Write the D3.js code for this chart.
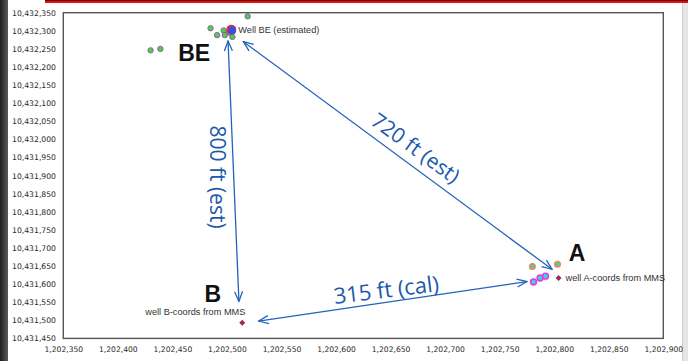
<!DOCTYPE html>
<html><head><meta charset="utf-8">
<script src="https://cdn.jsdelivr.net/npm/d3@7"></script>
<style>
html,body{margin:0;padding:0;background:#fff;}
svg{display:block;}
</style></head>
<body>
<svg id="chart" width="688" height="361"></svg>
<script>
// ---- data ----
const xTicks = [1202350,1202400,1202450,1202500,1202550,1202600,1202650,1202700,1202750,1202800,1202850,1202900];
const yTicks = [10431450,10431500,10431550,10431600,10431650,10431700,10431750,10431800,10431850,10431900,10431950,10432000,10432050,10432100,10432150,10432200,10432250,10432300,10432350];
// estimated BE survey points (green)
const beX = [1202519,1202485,1202491,1202497,1202498,1202502,1202505,1202430,1202439];
const beY = [10432340,10432307,10432288,10432301,10432288,10432295,10432283,10432246,10432250];
// well BE estimated location
const beEstX = [1202504];
const beEstY = [10432303];
// A-area points (orange ring)
const aOrangeX = [1202780,1202803];
const aOrangeY = [10431649,10431655];
// A-area points (magenta ring)
const aMagX = [1202781,1202787,1202792];
const aMagY = [10431606,10431617,10431622];
// MMS coordinates (diamonds)
const mmsName = ["well A-coords from MMS","well B-coords from MMS"];
const mmsX = [1202804,1202514];
const mmsY = [10431617,10431493];
// distance arrows: [x1,y1,x2,y2]
const arrowX1 = [1202501,1202515,1202529];
const arrowY1 = [10432272,10432270,10431498];
const arrowX2 = [1202511,1202798,1202775];
const arrowY2 = [10431552,10431641,10431607];
const distLabel = ["800 ft (est)","720 ft (est)","315 ft (cal)"];
const distX = [1202491,1202673,1202646];
const distY = [10431896,10431976,10431584];
const distRot = [90,36,-7];
// big well letters
const wellLetter = ["BE","A","B"];
const wellLX = [1202470,1202821,1202487];
const wellLY = [10432240,10431686,10431573];

// ---- layout ----
const W = 688, H = 361;
const svg = d3.select("#chart");
const x = d3.scaleLinear().domain([1202350,1202900]).range([63.3,663.3]);
const y = d3.scaleLinear().domain([10431450,10432350]).range([338.4,12.7]);
const fmt = d3.format(",");

// screenshot frame bits
svg.append("rect").attr("x",0).attr("y",0).attr("width",W).attr("height",H).attr("fill","#fff");
const g0 = svg.append("defs").append("linearGradient").attr("id","lg").attr("x1","0").attr("x2","1").attr("y1","0").attr("y2","0");
g0.append("stop").attr("offset","0").attr("stop-color","#1e1e1e");
g0.append("stop").attr("offset","1").attr("stop-color","#5a5a5a");
svg.append("rect").attr("x",0).attr("y",0).attr("width",8).attr("height",H).attr("fill","url(#lg)");
svg.append("rect").attr("x",45).attr("y",0).attr("width",W-45).attr("height",3).attr("fill","#e01010");
svg.append("rect").attr("x",45).attr("y",0).attr("width",W-45).attr("height",0.8).attr("fill","#400");
svg.append("rect").attr("x",682).attr("y",3).attr("width",6).attr("height",H-3).attr("fill","#e6e6e6");
svg.append("line").attr("x1",682.5).attr("x2",682.5).attr("y1",3).attr("y2",H).attr("stroke","#cfcfcf");

// axes (labels only)
const xAxis = d3.axisBottom(x).tickValues(xTicks).tickFormat(fmt).tickSize(0).tickPadding(0);
const gx = svg.append("g").attr("transform","translate(0,347)").call(xAxis);
gx.select(".domain").remove();
gx.selectAll("text").attr("font-family","DejaVu Sans").attr("font-size","7.6px").attr("fill","#2a2a2a").attr("dy","0.71em");
const yAxis = d3.axisLeft(y).tickValues(yTicks).tickFormat(fmt).tickSize(0).tickPadding(0);
const gy = svg.append("g").attr("transform","translate(56,0)").call(yAxis);
gy.select(".domain").remove();
gy.selectAll("text").attr("font-family","DejaVu Sans").attr("font-size","7.7px").attr("fill","#2a2a2a");

// plot frame
svg.append("rect").attr("x",x.range()[0]).attr("y",y.range()[1])
  .attr("width",x.range()[1]-x.range()[0]).attr("height",y.range()[0]-y.range()[1])
  .attr("fill","none").attr("stroke","#555").attr("stroke-width",1.4);

// arrow markers
const blue = "#2263bb";
const defs = svg.append("defs");
defs.append("marker").attr("id","ah").attr("viewBox","0 0 12 10").attr("refX",11).attr("refY",5)
  .attr("markerWidth",12).attr("markerHeight",10).attr("markerUnits","userSpaceOnUse").attr("orient","auto-start-reverse")
  .append("path").attr("d","M1,1 L11,5 L1,9").attr("fill","none").attr("stroke",blue).attr("stroke-width",1.3);

const arrows = arrowX1.map((d,i)=>({x1:arrowX1[i],y1:arrowY1[i],x2:arrowX2[i],y2:arrowY2[i]}));
svg.append("g").selectAll("line").data(arrows).join("line")
  .attr("x1",d=>x(d.x1)).attr("y1",d=>y(d.y1)).attr("x2",d=>x(d.x2)).attr("y2",d=>y(d.y2))
  .attr("stroke",blue).attr("stroke-width",1.3)
  .attr("marker-start","url(#ah)").attr("marker-end","url(#ah)");

// distance labels
svg.append("g").selectAll("text").data(distLabel).join("text")
  .attr("transform",(d,i)=>`translate(${x(distX[i])},${y(distY[i])}) rotate(${distRot[i]})`)
  .attr("text-anchor","middle").attr("dy","0.35em")
  .attr("font-family","Open Sans").attr("font-size",(d,i)=>i===2?"22px":"21px")
  .attr("fill","#1b58ad").text(d=>d);

// points
const green = beX.map((d,i)=>({x:d,y:beY[i]}));
svg.append("g").selectAll("circle").data(green).join("circle")
  .attr("cx",d=>x(d.x)).attr("cy",d=>y(d.y)).attr("r",2.7)
  .attr("fill","#35e035").attr("stroke","#b23ac8").attr("stroke-width",0.9);

const orange = aOrangeX.map((d,i)=>({x:d,y:aOrangeY[i]}));
svg.append("g").selectAll("circle").data(orange).join("circle")
  .attr("cx",d=>x(d.x)).attr("cy",d=>y(d.y)).attr("r",2.8)
  .attr("fill","#4cc6c0").attr("stroke","#f08a3a").attr("stroke-width",1.4);

const mag = aMagX.map((d,i)=>({x:d,y:aMagY[i]}));
svg.append("g").selectAll("circle").data(mag).join("circle")
  .attr("cx",d=>x(d.x)).attr("cy",d=>y(d.y)).attr("r",2.9)
  .attr("fill","#3fd6d6").attr("stroke","#e23ae6").attr("stroke-width",1.6);

// well BE estimated
const est = beEstX.map((d,i)=>({x:d,y:beEstY[i]}));
const ge = svg.append("g").selectAll("g").data(est).join("g")
  .attr("transform",d=>`translate(${x(d.x)},${y(d.y)})`);
ge.append("circle").attr("r",5).attr("fill","#e8283c");
ge.append("circle").attr("r",3.9).attr("cx",0.8).attr("cy",0.8).attr("fill","#3a4fe0");
ge.append("text").attr("x",7).attr("dy","0.35em").attr("font-family","Liberation Sans").attr("font-size","9.2px")
  .attr("fill","#333").text("Well BE (estimated)");

// MMS diamonds
const mms = mmsX.map((d,i)=>({x:d,y:mmsY[i],name:mmsName[i]}));
svg.append("g").selectAll("path").data(mms).join("path")
  .attr("transform",d=>`translate(${x(d.x)},${y(d.y)}) rotate(45)`)
  .attr("d",d3.symbol(d3.symbolSquare,18)).attr("fill","#9c2a5e");
svg.append("g").selectAll("text").data(mms).join("text")
  .attr("x",(d,i)=>i===0?x(d.x)+7:x(1202471))
  .attr("y",(d,i)=>i===0?y(d.y):y(10431523))
  .attr("dy","0.35em").attr("text-anchor",(d,i)=>i===0?"start":"middle")
  .attr("font-family","Liberation Sans").attr("font-size","9.2px").attr("fill","#333").text(d=>d.name);

// big letters
svg.append("g").selectAll("text").data(wellLetter).join("text")
  .attr("x",(d,i)=>x(wellLX[i])).attr("y",(d,i)=>y(wellLY[i]))
  .attr("dy","0.36em").attr("text-anchor","middle")
  .attr("font-family","Liberation Sans").attr("font-weight","bold").attr("font-size","23px")
  .attr("fill","#111").text(d=>d);
</script>
</body></html>
